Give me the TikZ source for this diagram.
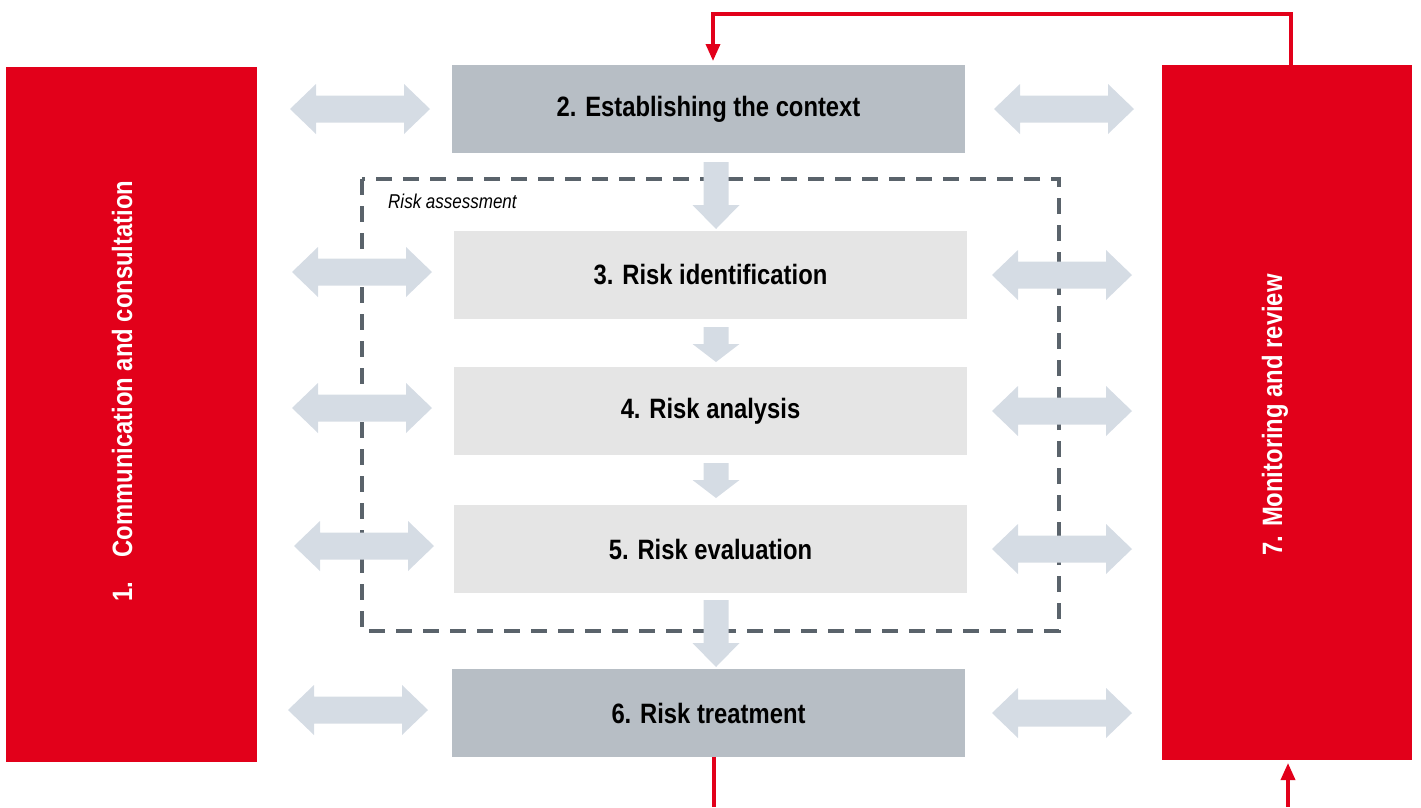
\documentclass[tikz,border=0pt]{standalone}
\usepackage{fontspec}
\setmainfont{Liberation Sans}[FakeStretch=0.85]
\usetikzlibrary{arrows.meta,calc}
\definecolor{rred}{HTML}{E2001A}
\definecolor{dgray}{HTML}{B7BEC5}
\definecolor{lgray}{HTML}{E5E5E5}
\definecolor{arr}{HTML}{D5DCE4}
\definecolor{dash}{HTML}{5A636B}
\tikzset{
  redbox/.style={fill=rred,draw=none,inner sep=0pt},
  boxfont/.style={font=\bfseries\fontsize{28}{32}\selectfont},
  darkbox/.style={fill=dgray,draw=none,inner sep=0pt,boxfont},
  lightbox/.style={fill=lgray,draw=none,inner sep=0pt,boxfont},
  redline/.style={draw=rred,line width=3.5pt},
  redtip/.style={-{Triangle[width=14pt,length=17pt]}},
  dashbox/.style={draw=dash,line width=4pt,dash pattern=on 16pt off 11pt},
  dblarrow/.pic={\fill[arr] (-70,0) -- (-44,-25) -- (-44,-13.5) -- (44,-13.5) -- (44,-25) -- (70,0) -- (44,25) -- (44,13.5) -- (-44,13.5) -- (-44,25) -- cycle;},
}
\newcommand{\fatdownarrow}[4]{% x, top, headstart, tip
  \fill[arr] (#1-12.5,#2) -- (#1+12.5,#2) -- (#1+12.5,#3) -- (#1+23.5,#3) -- (#1,#4) -- (#1-23.5,#3) -- (#1-12.5,#3) -- cycle;}
\begin{document}
\begin{tikzpicture}[x=1pt,y=-1pt]
\useasboundingbox (0,0) rectangle (1421,807);
% dashed risk assessment frame
\draw[dashbox] (362,179) rectangle (1059,631);
\node[anchor=west,font=\itshape\fontsize{20}{24}\selectfont,inner sep=0pt] (ra) at (388,201) {Risk assessment};
% red side boxes
\node[redbox,minimum width=251pt,minimum height=695pt] (r1) at (131.5,414.5) {};
\node[rotate=90,text=white,boxfont] (t1) at (122,391) {1.\hspace{24pt}Communication and consultation};
\node[redbox,minimum width=250pt,minimum height=695pt] (r7) at (1287,412.5) {};
\node[rotate=90,text=white,boxfont] (t7) at (1275,415) {7. Monitoring and review};
% process boxes
\node[darkbox,minimum width=513pt,minimum height=88pt] (b2) at (708.5,109) {2. Establishing the context};
\node[lightbox,minimum width=513pt,minimum height=88pt] (b3) at (710.5,275) {3. Risk identification};
\node[lightbox,minimum width=513pt,minimum height=88pt] (b4) at (710.5,411) {4. Risk analysis};
\node[lightbox,minimum width=513pt,minimum height=88pt] (b5) at (710.5,549) {5. Risk evaluation};
\node[darkbox,minimum width=513pt,minimum height=88pt] (b6) at (708.5,713) {6. Risk treatment};
% fat down arrows
\fatdownarrow{716}{162}{205}{229}
\fatdownarrow{716}{327}{344}{362}
\fatdownarrow{716}{463}{480}{498}
\fatdownarrow{716}{600}{643}{667}
% double arrows
\pic at (360,109) {dblarrow};
\pic at (362,272) {dblarrow};
\pic at (362,408) {dblarrow};
\pic at (364,546) {dblarrow};
\pic at (358,710) {dblarrow};
\pic at (1064,109) {dblarrow};
\pic at (1062,275) {dblarrow};
\pic at (1062,411) {dblarrow};
\pic at (1062,549) {dblarrow};
\pic at (1062,713) {dblarrow};
% red feedback lines
\coordinate (c1) at (1291,14);
\coordinate (c2) at (713,61);
\draw[redline,redtip] (r7.north -| c1) -- (c1) -| (c2);
\coordinate (c3) at (714,807);
\draw[redline] (b6.south -| c3) -- (c3);
\coordinate (c4) at (1288,807);
\coordinate (c5) at (1288,763);
\draw[redline,redtip] (c4) -- (c5);
\end{tikzpicture}
\end{document}
